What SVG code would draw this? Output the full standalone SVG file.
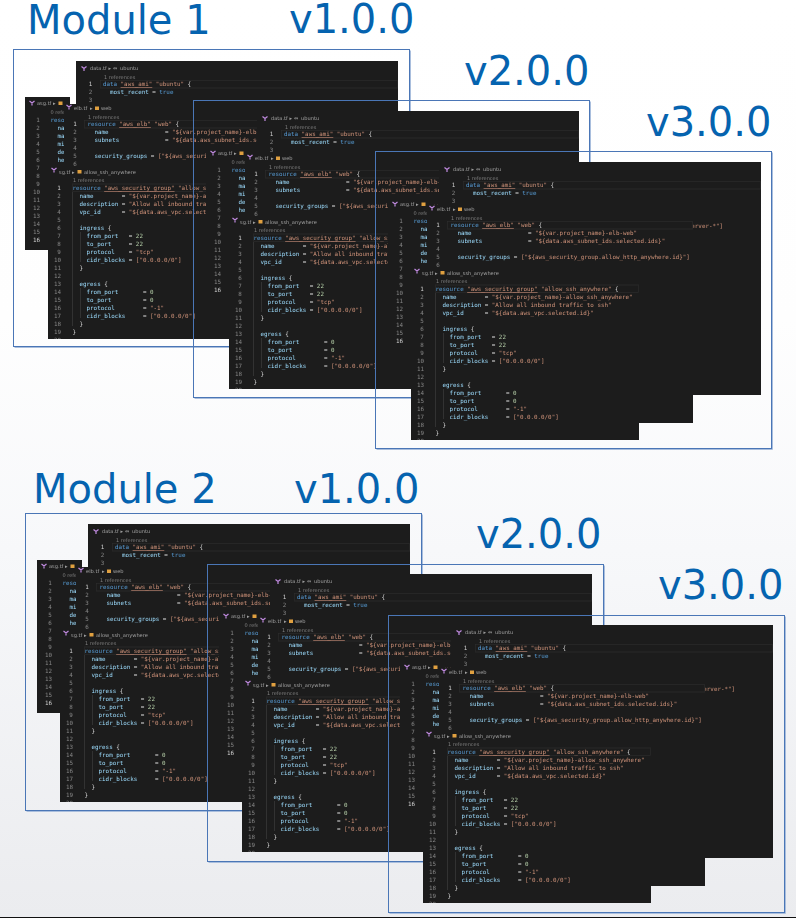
<svg xmlns="http://www.w3.org/2000/svg" width="796" height="918" viewBox="0 0 796 918">
<style>
.title{font:40px "DejaVu Sans",sans-serif;fill:#0563af}
.frame{fill:none;stroke:#4a76b6;stroke-width:1}
.edge{fill:none;stroke:#a9bedd;stroke-width:1}
.panel{fill:#1e1e1e}
.c{font:5.85px "DejaVu Sans Mono",monospace;white-space:pre;fill:#9cdcfe}
.k{fill:#569cd6}.s{fill:#ce9178}.n{fill:#b5cea8}.p{fill:#d4d4d4}
.u{fill:#ce9178;text-decoration:underline}
.l{font:5.85px "DejaVu Sans Mono",monospace;fill:#858585;text-anchor:middle}
.cur{fill:#d0d0d0}
.h{font:5.1px "DejaVu Sans",sans-serif;fill:#a0a0a0}
.r{font:5px "DejaVu Sans",sans-serif;fill:#7d7d7d}
.hl{fill:none;stroke:#2c2c2c;stroke-width:.7}
.g{stroke:#3c3c3c;stroke-width:.6;fill:none}
.ic{fill:none;stroke:#c08ae0;stroke-width:1.2}
.fl{fill:#e0a040}
</style>
<defs>
<linearGradient id="bg" x1="0" y1="0" x2="0" y2="1">
<stop offset="0" stop-color="#ffffff"/><stop offset=".35" stop-color="#fefefe"/><stop offset=".6" stop-color="#f7f8fa"/><stop offset="1" stop-color="#ebecef"/>
</linearGradient>
<filter id="soft" x="-5%" y="-5%" width="110%" height="110%"><feGaussianBlur stdDeviation="0.38"/></filter>
<clipPath id="sgclip"><rect x="48" y="167" width="228" height="172"/></clipPath>
<path id="icon" class="ic" d="M-2.5-2 L0 0 L2.5-2 M0 0 V2.5"/>
<g id="data-panel">
<rect class="panel" x="76" y="61" width="322" height="233"/>
<use href="#icon" x="84" y="68.5"/>
<text class="h" x="90" y="70.3">data.tf</text><text class="h" x="108.500" y="70.3">▸</text><text class="h" x="113" y="70.3">⇔</text><text class="h" x="120" y="70.3">ubuntu</text>
<text class="r" x="104" y="78.8">1 references</text>
<rect class="hl" x="100.5" y="80.5" width="297" height="7.5"/>
<text class="l cur" x="90.5" y="86">1</text><text class="l" x="90.5" y="94">2</text><text class="l" x="90.5" y="102">3</text>
<text class="c k" x="103" y="86">data <tspan class="u">"aws_ami"</tspan><tspan class="s"> "ubuntu"</tspan><tspan class="p"> {</tspan></text>
<text class="c" x="103" y="94">  most_recent <tspan class="p">=</tspan> <tspan class="k">true</tspan></text>
<text class="c s" x="360" y="127" text-anchor="end">["*ubuntu-xenial-16.04-amd64-server-*"]</text>
</g>
<g id="asg-panel">
<rect class="panel" x="25" y="97" width="45" height="153"/>
<use href="#icon" x="32" y="103"/>
<text class="h" x="37" y="105">asg.tf</text><text class="h" x="53" y="105">▸</text><rect class="fl" x="58.500" y="101.500" width="4" height="3.500"/>
<text class="r" x="50.500" y="114">0 refe</text>
<text class="l" x="38" y="122">1</text><text class="l" x="38" y="130">2</text><text class="l" x="38" y="138">3</text><text class="l" x="38" y="146">4</text><text class="l" x="38" y="154">5</text><text class="l" x="38" y="162">6</text><text class="l" x="38" y="170">7</text><text class="l" x="38" y="178">8</text><text class="l" x="38" y="186">9</text><text class="l" x="36.500" y="194">10</text><text class="l" x="36.500" y="202">11</text><text class="l" x="36.500" y="210">12</text><text class="l" x="36.500" y="218">13</text><text class="l" x="36.500" y="226">14</text><text class="l" x="36.500" y="234">15</text><text class="l cur" x="36.500" y="242">16</text>
<text class="c k" x="50.500" y="122">resource</text>
<text class="c" x="57.500" y="130">name</text><text class="c" x="57.500" y="138">max_size</text><text class="c" x="57.500" y="146">min_size</text><text class="c" x="57.500" y="154">desired</text><text class="c" x="57.500" y="162">health</text>
</g>
<g id="elb-panel">
<rect class="panel" x="64" y="104" width="266" height="218"/>
<use href="#icon" x="69" y="107"/>
<text class="h" x="74" y="110">elb.tf</text><text class="h" x="90" y="110">▸</text><rect class="fl" x="95" y="106.500" width="4" height="3.500"/><text class="h" x="101" y="110">web</text>
<text class="r" x="88" y="118.500">1 references</text>
<rect class="hl" x="84.500" y="120.500" width="245" height="7.500"/>
<text class="l cur" x="75" y="126">1</text><text class="l" x="75" y="134">2</text><text class="l" x="75" y="142">3</text><text class="l" x="75" y="150">4</text><text class="l" x="75" y="158">5</text><text class="l" x="75" y="166">6</text>
<text class="c k" x="87.500" y="126">resource <tspan class="u">"aws_elb"</tspan><tspan class="s"> "web"</tspan><tspan class="p"> {</tspan></text>
<text class="c" x="87.500" y="134">  name                <tspan class="p">=</tspan> <tspan class="s">"${var.project_name}-elb-web"</tspan></text>
<text class="c" x="87.500" y="142">  subnets             <tspan class="p">=</tspan> <tspan class="s">"${data.aws_subnet_ids.selected.ids}"</tspan></text>
<text class="c" x="87.500" y="158">  security_groups <tspan class="p">=</tspan> <tspan class="s">["${aws_security_group.allow_http_anywhere.id}"]</tspan></text>
</g>
<g id="sg-panel">
<rect class="panel" x="48" y="167" width="228" height="172"/>
<g clip-path="url(#sgclip)">
<use href="#icon" x="54" y="170"/>
<text class="h" x="59" y="173.500">sg.tf</text><text class="h" x="72" y="173.500">▸</text><rect class="fl" x="77.500" y="170" width="4" height="3.500"/><text class="h" x="84" y="173.500">allow_ssh_anywhere</text>
<text class="r" x="73" y="182">1 references</text>
<rect class="hl" x="72.500" y="184" width="203" height="7.500"/>
<path class="g" d="M72.500 192V326M80.500 232V262M80.500 288V318"/>
<text class="l cur" x="59" y="190">1</text><text class="l" x="59" y="198">2</text><text class="l" x="59" y="206">3</text><text class="l" x="59" y="214">4</text><text class="l" x="59" y="222">5</text><text class="l" x="59" y="230">6</text><text class="l" x="59" y="238">7</text><text class="l" x="59" y="246">8</text><text class="l" x="59" y="254">9</text><text class="l" x="57.500" y="262">10</text><text class="l" x="57.500" y="270">11</text><text class="l" x="57.500" y="278">12</text><text class="l" x="57.500" y="286">13</text><text class="l" x="57.500" y="294">14</text><text class="l" x="57.500" y="302">15</text><text class="l" x="57.500" y="310">16</text><text class="l" x="57.500" y="318">17</text><text class="l" x="57.500" y="326">18</text><text class="l" x="57.500" y="334">19</text><text class="l" x="57.500" y="342">20</text>
<text class="c k" x="72.500" y="190">resource <tspan class="u">"aws_security_group"</tspan><tspan class="s"> "allow_ssh_anywhere"</tspan><tspan class="p"> {</tspan></text>
<text class="c" x="72.500" y="198">  name        <tspan class="p">=</tspan> <tspan class="s">"${var.project_name}-allow_ssh_anywhere"</tspan></text>
<text class="c" x="72.500" y="206">  description <tspan class="p">=</tspan> <tspan class="s">"Allow all inbound traffic to ssh"</tspan></text>
<text class="c" x="72.500" y="214">  vpc_id      <tspan class="p">=</tspan> <tspan class="s">"${data.aws_vpc.selected.id}"</tspan></text>
<text class="c" x="72.500" y="230">  ingress <tspan class="p">{</tspan></text>
<text class="c" x="72.500" y="238">    from_port   <tspan class="p">=</tspan> <tspan class="n">22</tspan></text>
<text class="c" x="72.500" y="246">    to_port     <tspan class="p">=</tspan> <tspan class="n">22</tspan></text>
<text class="c" x="72.500" y="254">    protocol    <tspan class="p">=</tspan> <tspan class="s">"tcp"</tspan></text>
<text class="c" x="72.500" y="262">    cidr_blocks <tspan class="p">=</tspan> <tspan class="s">["0.0.0.0/0"]</tspan></text>
<text class="c p" x="72.500" y="270">  }</text>
<text class="c" x="72.500" y="286">  egress <tspan class="p">{</tspan></text>
<text class="c" x="72.500" y="294">    from_port       <tspan class="p">=</tspan> <tspan class="n">0</tspan></text>
<text class="c" x="72.500" y="302">    to_port         <tspan class="p">=</tspan> <tspan class="n">0</tspan></text>
<text class="c" x="72.500" y="310">    protocol        <tspan class="p">=</tspan> <tspan class="s">"-1"</tspan></text>
<text class="c" x="72.500" y="318">    cidr_blocks     <tspan class="p">=</tspan> <tspan class="s">["0.0.0.0/0"]</tspan></text>
<text class="c p" x="72.500" y="326">  }</text>
<text class="c p" x="72.500" y="334">}</text>
</g>
</g>
<g id="stack" filter="url(#soft)">
<use href="#data-panel"/><use href="#asg-panel"/><use href="#elb-panel"/><use href="#sg-panel"/>
</g>
<g id="fr"><path class="edge" d="M397 1V298H1"/><rect class="frame" x="0" y="0" width="396" height="297"/></g>
</defs>
<rect width="796" height="917" fill="url(#bg)"/>
<rect y="917" width="796" height="1" fill="#111"/>
<g id="module-1">
<text class="title" x="27" y="33.500">Module 1</text>
<text class="title" x="289" y="33">v1.0.0</text>
<text class="title" x="464" y="85">v2.0.0</text>
<text class="title" x="646" y="136">v3.0.0</text>
<g id="m1-v1"><use href="#fr" x="13.500" y="49.500"/><use href="#stack"/></g>
<g id="m1-v2"><use href="#fr" x="193.500" y="100.500"/><use href="#stack" x="181" y="50"/></g>
<g id="m1-v3"><use href="#fr" x="375.500" y="151.500"/><use href="#stack" x="363" y="101"/></g>
</g>
<g id="module-2">
<text class="title" x="33" y="503">Module 2</text>
<text class="title" x="294" y="503">v1.0.0</text>
<text class="title" x="476" y="548">v2.0.0</text>
<text class="title" x="658" y="599">v3.0.0</text>
<g id="m2-v1"><use href="#fr" x="25.500" y="513.500"/><use href="#stack" x="12" y="463"/></g>
<g id="m2-v2"><use href="#fr" x="207.500" y="564.500"/><use href="#stack" x="194" y="513"/></g>
<g id="m2-v3"><use href="#fr" x="388.500" y="615.500"/><use href="#stack" x="375" y="564"/></g>
</g>
</svg>
